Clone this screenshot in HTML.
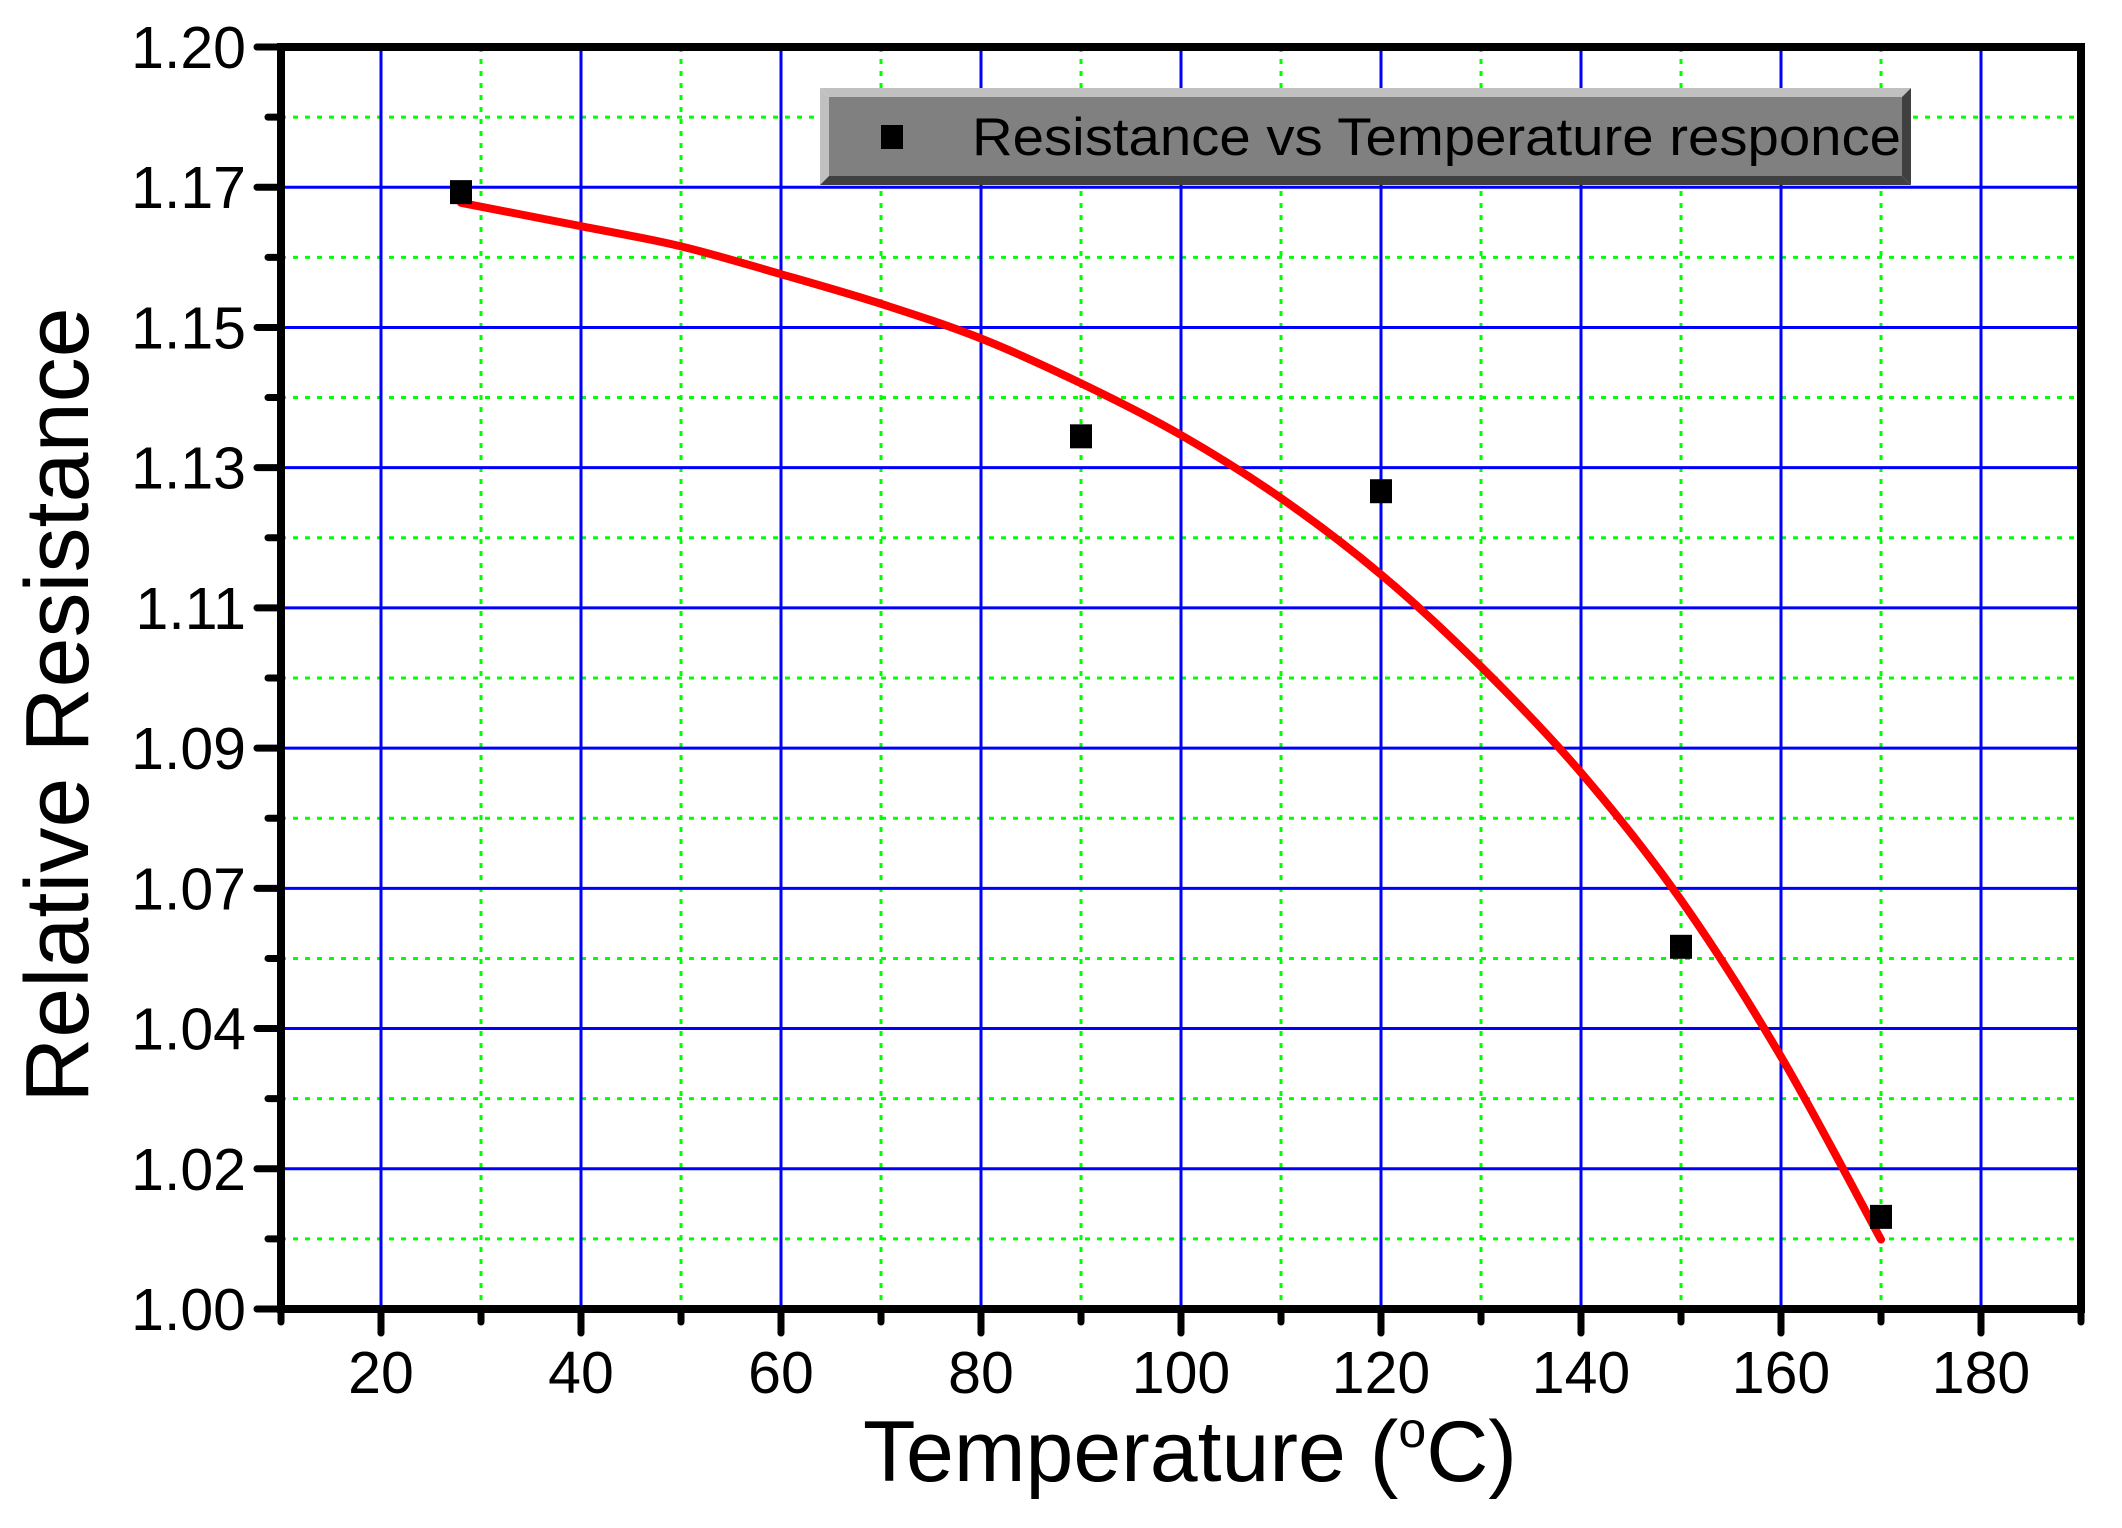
<!DOCTYPE html>
<html><head><meta charset="utf-8"><style>
html,body{margin:0;padding:0;background:#fff;}
svg{display:block;font-family:"Liberation Sans",Arial,sans-serif;}
</style></head><body>
<svg id="chart" width="2122" height="1528" viewBox="0 0 2122 1528">
<g id="grid"></g>
<g id="curve"></g>
<g id="points"></g>
<g id="axes"></g>
<g>
  <polygon points="820,88 1911,88 1902,97 829,97" fill="#c0c0c0"/>
  <polygon points="820,88 829,97 829,176 820,185" fill="#c0c0c0"/>
  <polygon points="1911,88 1911,185 1902,176 1902,97" fill="#404040"/>
  <polygon points="820,185 1911,185 1902,176 829,176" fill="#404040"/>
  <rect x="829" y="97" width="1073" height="79" fill="#808080"/>
  <rect x="881" y="125" width="22" height="24" fill="#000"/>
  <text x="972" y="155" font-size="53" textLength="929" lengthAdjust="spacingAndGlyphs" fill="#000">Resistance vs Temperature responce</text>
</g>
<text x="1190" y="1481" font-size="86" text-anchor="middle">Temperature (<tspan font-size="50" dy="-34">o</tspan><tspan dy="34">C)</tspan></text>
<text transform="translate(88,705) rotate(-90)" font-size="90" text-anchor="middle">Relative Resistance</text>
</svg>
<script>
const xTicks = [20,40,60,80,100,120,140,160,180];
const xMinor = [10,30,50,70,90,110,130,150,170,190];
const yTickLabels = ["1.00","1.02","1.04","1.07","1.09","1.11","1.13","1.15","1.17","1.20"];
const dataX = [28,90,120,150,170];
const dataY = [1.1770,1.1383,1.1296,1.0574,1.0146];
const fitX = [28,40,50,60,70,80,90,100,110,120,130,140,150,160,170];
const fitY = [1.1753,1.1716,1.1684,1.164,1.1593,1.1538,1.1467,1.1385,1.1285,1.1164,1.1018,1.085,1.0648,1.0400,1.0110];

const L=281,R=2081,T=47,B=1309;
const xMin=10,xMax=190,yMin=1.0,yMax=1.2;
function sx(v){return L+(v-xMin)/(xMax-xMin)*(R-L);}
function sy(v){return B-(v-yMin)/(yMax-yMin)*(B-T);}
const NS="http://www.w3.org/2000/svg";
function mk(tag,attrs,parent){const e=document.createElementNS(NS,tag);for(const k in attrs)e.setAttribute(k,attrs[k]);parent.appendChild(e);return e;}
const grid=document.getElementById('grid'),axes=document.getElementById('axes');
const nY=yTickLabels.length-1;
function yPos(i){return sy(yMin+(yMax-yMin)*i/nY);}
xMinor.forEach(v=>{if(v>xMin&&v<xMax){const e=mk('line',{x1:sx(v),x2:sx(v),y1:T,y2:B,stroke:'#00ff00','stroke-width':3,'stroke-dasharray':'5 7'},grid);

}});
for(let i=0;i<nY;i++){const y=(yPos(i)+yPos(i+1))/2;const e=mk('line',{x1:L,x2:R,y1:y,y2:y,stroke:'#00ff00','stroke-width':3,'stroke-dasharray':'5 7'},grid);

}
xTicks.forEach(v=>{const e=mk('line',{x1:sx(v),x2:sx(v),y1:T,y2:B,stroke:'#0000ff','stroke-width':3},grid);

});
for(let i=1;i<nY;i++){const e=mk('line',{x1:L,x2:R,y1:yPos(i),y2:yPos(i),stroke:'#0000ff','stroke-width':3},grid);

}
// smooth curve (Catmull-Rom)
const P=fitX.map((x,i)=>[sx(x),sy(fitY[i])]);
let d='M'+P[0][0]+','+P[0][1];
for(let i=0;i<P.length-1;i++){const p0=P[Math.max(i-1,0)],p1=P[i],p2=P[i+1],p3=P[Math.min(i+2,P.length-1)];
d+=' C'+(p1[0]+(p2[0]-p0[0])/6)+','+(p1[1]+(p2[1]-p0[1])/6)+' '+(p2[0]-(p3[0]-p1[0])/6)+','+(p2[1]-(p3[1]-p1[1])/6)+' '+p2[0]+','+p2[1];}
const c=mk('path',{d:d,fill:'none',stroke:'#ff0000','stroke-width':8,'stroke-linecap':'round','stroke-linejoin':'round'},document.getElementById('curve'));


dataX.forEach((x,i)=>{const r=mk('rect',{x:sx(x)-11,y:sy(dataY[i])-12,width:22,height:24,fill:'#000'},document.getElementById('points'));

});
const fr=mk('rect',{x:L,y:T,width:R-L,height:B-T,fill:'none',stroke:'#000','stroke-width':8},axes);


xTicks.forEach(v=>{const t=mk('line',{x1:sx(v),x2:sx(v),y1:B,y2:B+24,stroke:'#000','stroke-width':7,'stroke-linecap':'round'},axes);


const l=mk('text',{x:sx(v),y:B+84,'font-size':59,'text-anchor':'middle'},axes);l.textContent=v;

});
xMinor.forEach(v=>{const t=mk('line',{x1:sx(v),x2:sx(v),y1:B,y2:B+13,stroke:'#000','stroke-width':7,'stroke-linecap':'round'},axes);

});
yTickLabels.forEach((s,i)=>{const y=yPos(i);const t=mk('line',{x1:L-24,x2:L,y1:y,y2:y,stroke:'#000','stroke-width':7,'stroke-linecap':'round'},axes);


const l=mk('text',{x:L-35,y:y+21,'font-size':59,'text-anchor':'end'},axes);l.textContent=s;

});
for(let i=0;i<nY;i++){const y=(yPos(i)+yPos(i+1))/2;const t=mk('line',{x1:L-13,x2:L,y1:y,y2:y,stroke:'#000','stroke-width':7,'stroke-linecap':'round'},axes);

}
</script>
</body></html>
